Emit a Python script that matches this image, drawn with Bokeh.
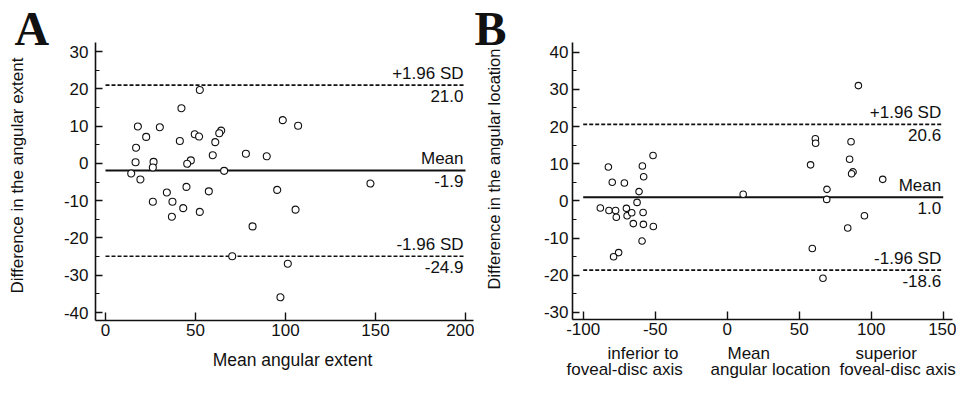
import math
from bokeh.plotting import figure
from bokeh.layouts import row
from bokeh.models import FixedTicker, Label
from bokeh.embed import file_html
from bokeh.resources import INLINE

# ---------------- data: panel A (angular extent) ----------------
a_mean_ext = [52.4, 42.2, 98.5, 18.0, 30.2, 22.6, 49.6, 52.0, 64.3, 63.2,
              41.3, 61.0, 17.0, 59.6, 78.0, 89.6, 16.7, 26.7, 47.4, 45.4,
              26.3, 65.9, 14.3, 19.4, 107.0, 95.4, 147.2, 105.6, 101.3, 97.2,
              34.1, 45.0, 57.4, 26.3, 37.2, 43.2, 36.9, 52.4, 81.7, 70.4]
a_diff = [19.7, 14.8, 11.6, 9.9, 9.7, 7.1, 7.8, 7.2, 8.8, 8.1,
          6.0, 5.7, 4.2, 2.2, 2.6, 1.9, 0.3, 0.4, 0.8, -0.1,
          -1.1, -2.0, -2.7, -4.3, 10.1, -7.1, -5.4, -12.4, -26.9, -35.9,
          -7.8, -6.3, -7.5, -10.3, -10.3, -12.0, -14.3, -13.0, -16.9, -24.9]
a_mean_line = -1.9
a_upper = 21.0
a_lower = -24.9
a_xticks = [0, 50, 100, 150, 200]
a_yticks = [-40, -30, -20, -10, 0, 10, 20, 30]
a_yminor = [-35, -25, -15, -5, 5, 15, 25]

# ---------------- data: panel B (angular location) ----------------
b_mean_loc = [-51.5, -82.5, -58.9, -58.0, -79.8, -71.4, -61.2, -62.6, -88.1, -82.1,
              -77.5, -70.0, -77.0, -69.5, -66.3, -58.4, -65.2, -58.2, -51.3, -59.1,
              -75.4, -78.9, 11.1, 91.1, 61.2, 61.4, 86.0, 57.9, 85.0, 87.4,
              86.4, 108.0, 69.3, 69.1, 95.3, 83.7, 59.1, 66.5]
b_diff = [12.2, 9.1, 9.4, 6.5, 5.0, 4.8, 2.5, -0.4, -1.9, -2.6,
          -2.6, -2.0, -4.4, -4.0, -3.2, -3.1, -6.1, -6.3, -6.9, -10.8,
          -13.9, -15.0, 1.8, 31.0, 16.7, 15.5, 15.9, 9.7, 11.2, 7.8,
          7.3, 5.8, 3.1, 0.4, -4.0, -7.3, -12.8, -20.8]
b_mean_line = 1.0
b_upper = 20.6
b_lower = -18.6
b_xticks = [-100, -50, 0, 50, 100, 150]
b_yticks = [-30, -20, -10, 0, 10, 20, 30, 40]
b_yminor = [-25, -15, -5, 5, 15, 25, 35]

FONT = "Liberation Sans"
SERIF = "Liberation Serif"
INK = "#111111"
H = 378  # canvas height


class Geo:
    """Pixel geometry of one panel: canvas origin and data->pixel scale (layout only)."""
    def __init__(self, left, width, x0px, xppu, y0px, yppu):
        self.left, self.width = left, width
        self.x0px, self.xppu, self.y0px, self.yppu = x0px, xppu, y0px, yppu

    def x(self, px):
        return (px - self.x0px) / self.xppu

    def y(self, py):
        return (self.y0px - py) / self.yppu


def make_panel(geo, box, xticks, yticks, yminor, ylab_standoff):
    # box = (left px, right px, top px, bottom px) of the axes box
    bl, br, bt, bb = box
    p = figure(width=geo.width, height=H,
               x_range=(geo.x(geo.left), geo.x(geo.left + geo.width)),
               y_range=(geo.y(H), geo.y(0)),
               min_border=0, min_border_left=0, min_border_right=0,
               min_border_top=0, min_border_bottom=0,
               output_backend="svg", toolbar_location=None,
               outline_line_color=None, background_fill_color="white",
               border_fill_color="white")
    xlo, xhi = geo.x(bl), geo.x(br)
    ylo, yhi = geo.y(bb), geo.y(bt)
    p.xaxis.ticker = FixedTicker(ticks=xticks, minor_ticks=[])
    p.yaxis.ticker = FixedTicker(ticks=yticks, minor_ticks=yminor)
    p.xaxis.major_label_overrides = {t: str(t) for t in xticks}
    p.yaxis.major_label_overrides = {t: str(t) for t in yticks}
    p.xaxis.fixed_location = ylo
    p.yaxis.fixed_location = xlo
    p.xaxis.bounds = (xlo, xhi)
    p.yaxis.bounds = (ylo, yhi)
    for ax in (p.xaxis, p.yaxis):
        ax.axis_line_color = INK
        ax.axis_line_width = 1.6
        ax.major_tick_line_color = INK
        ax.major_tick_line_width = 1.4
        ax.minor_tick_line_color = INK
        ax.minor_tick_line_width = 1.2
        ax.major_tick_out = 0
        ax.minor_tick_out = 0
        ax.major_label_text_font = FONT
        ax.major_label_text_font_size = "17px"
        ax.major_label_text_color = INK
    p.xaxis.major_tick_in = 8
    p.yaxis.major_tick_in = 7
    p.yaxis.minor_tick_in = 4
    p.xaxis.major_label_standoff = 3
    p.yaxis.major_label_standoff = ylab_standoff
    p.xgrid.visible = False
    p.ygrid.visible = False
    return p


def text(p, x, y, s, size="17px", align="left", baseline="bottom", angle=0.0,
         font=FONT, style="normal", xo=0, yo=0):
    p.add_layout(Label(x=x, y=y, text=s, text_align=align, text_baseline=baseline,
                       angle=angle, text_font=font, text_font_style=style,
                       text_font_size=size, text_color=INK, x_offset=xo, y_offset=yo))


def limit_lines(p, xticks, mean_v, up_v, lo_v):
    xs = [min(xticks), max(xticks)]
    p.line(xs, [up_v, up_v], line_color=INK, line_width=1.7, line_dash="4 2")
    p.line(xs, [lo_v, lo_v], line_color=INK, line_width=1.7, line_dash="4 2")
    p.line(xs, [mean_v, mean_v], line_color=INK, line_width=2)
    xr = max(xticks)
    for v, top_txt in ((up_v, "+1.96 SD"), (mean_v, "Mean"), (lo_v, "-1.96 SD")):
        text(p, xr, v, top_txt, align="right", baseline="bottom", xo=-2, yo=2)
        text(p, xr, v, f"{v:.1f}", align="right", baseline="top", xo=-2, yo=-5)


# ---------------- panel A ----------------
gA = Geo(left=0, width=474, x0px=105.0, xppu=1.8, y0px=162.9, yppu=3.729)
pA = make_panel(gA, (95, 473, 42, 320), a_xticks, a_yticks, a_yminor, 7)
limit_lines(pA, a_xticks, a_mean_line, a_upper, a_lower)
pA.scatter(a_mean_ext, a_diff, size=7, fill_color="white", line_color=INK, line_width=1.1)
# rotated y label: box bottom (descender side) sits on the right
text(pA, gA.x(26.5), gA.y(175), "Difference in the angular extent", size="17px",
     align="center", baseline="bottom", angle=math.pi / 2)
text(pA, gA.x(292), gA.y(369), "Mean angular extent", size="17.5px", align="center")
text(pA, gA.x(14), gA.y(54), "A", size="48px", font=SERIF, style="bold")

# ---------------- panel B ----------------
gB = Geo(left=474, width=482, x0px=726.7, xppu=1.44, y0px=200.4, yppu=3.719)
pB = make_panel(gB, (572, 952, 42, 319), b_xticks, b_yticks, b_yminor, 4)
limit_lines(pB, b_xticks, b_mean_line, b_upper, b_lower)
pB.scatter(b_mean_loc, b_diff, size=6.5, fill_color="white", line_color=INK, line_width=1.1)
text(pB, gB.x(502), gB.y(168.5), "Difference in the angular location", size="16.5px",
     align="center", baseline="bottom", angle=math.pi / 2)
text(pB, gB.x(474), gB.y(54), "B", size="48px", font=SERIF, style="bold")

# bottom description texts of panel B: (text, left px, text-box bottom px)
b_bottom_texts = [
    ("inferior to", 607, 362),
    ("foveal-disc axis", 566, 378),
    ("Mean", 727, 362),
    ("angular  location", 710, 378),
    ("superior", 855, 362),
    ("foveal-disc axis", 839, 378),
]
for s, lx, by in b_bottom_texts:
    text(pB, gB.x(lx), gB.y(by), s, size="17px")

layout = row(pA, pB)
open("out.html", "w").write(file_html(layout, INLINE))
